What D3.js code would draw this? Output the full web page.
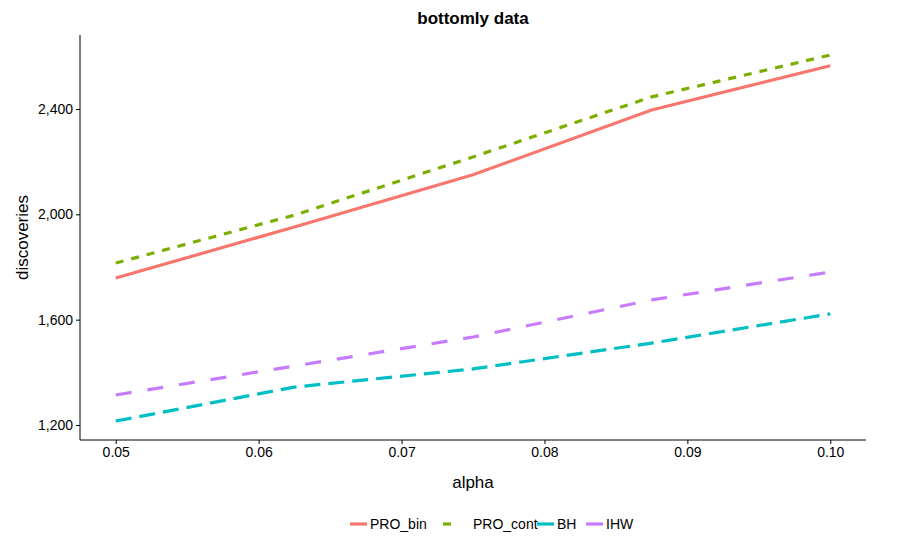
<!DOCTYPE html>
<html><head><meta charset="utf-8">
<script src="https://cdn.jsdelivr.net/npm/d3@7"></script>
<style>body{margin:0;background:#fff;font-family:"Liberation Sans",Arial,sans-serif}</style>
</head><body><div id="chart"></div>
<script>
// data
let alphas = [0.05, 0.0625, 0.075, 0.0875, 0.1];
let pro_bin = [1758, 1952, 2150, 2396, 2564];
let pro_cont = [1815, 1997, 2218, 2446, 2605];
let bh = [1215, 1344, 1413, 1511, 1622];
let ihw = [1314, 1424, 1534, 1675, 1781];
let seriesNames = ["PRO_bin", "PRO_cont", "BH", "IHW"];
let xTicks = [0.05, 0.06, 0.07, 0.08, 0.09, 0.10];
let yTicks = [1200, 1600, 2000, 2400];

let colors = ["#F8766D", "#7CAE00", "#00BFC4", "#C77CFF"];
let dashes = [null, "8,8", "16,8", "16,16"];
let allSeries = [pro_bin, pro_cont, bh, ihw];

let width = 903, height = 551;
let margin = {top: 35, bottom: 111, left: 80, right: 37};

let svg = d3.select("#chart").append("svg")
  .attr("width", width).attr("height", height);

let xScale = d3.scaleLinear().domain([0.0475, 0.1025])
  .range([margin.left, width - margin.right]);
let yScale = d3.scaleLinear().domain([1200, 2400])
  .range([425, 109]);

// axes
let axisx = d3.axisBottom(xScale).tickValues(xTicks).tickFormat(d3.format(".2f")).tickSize(4).tickSizeOuter(0);
let axisy = d3.axisLeft(yScale).tickValues(yTicks).tickSize(4).tickSizeOuter(0);

let gx = svg.append("g").attr("transform", "translate(0," + (height - margin.bottom) + ")").call(axisx);
let gy = svg.append("g").attr("transform", "translate(" + margin.left + ",0)").call(axisy);
[gx, gy].forEach(function(g) {
  g.selectAll("text").attr("font-size", "14px").attr("fill", "#000").attr("font-family", "Liberation Sans, Arial, sans-serif");
  g.selectAll("line").attr("stroke", "#000");
  g.select(".domain").attr("stroke", "#000");
});
gy.select(".domain").attr("d", "M0," + margin.top + "V" + (height - margin.bottom));
gx.select(".domain").attr("d", "M" + margin.left + ",0H" + (width - margin.right));

svg.append("text").attr("x", (margin.left + width - margin.right) / 2).attr("y", 488)
  .attr("text-anchor", "middle").attr("font-size", "17px").text("alpha");
svg.append("text").attr("transform", "rotate(-90)")
  .attr("x", -(margin.top + height - margin.bottom) / 2).attr("y", 28)
  .attr("text-anchor", "middle").attr("font-size", "17px").text("discoveries");
svg.append("text").attr("x", (margin.left + width - margin.right) / 2).attr("y", 24)
  .attr("text-anchor", "middle").attr("font-size", "17px").attr("font-weight", "bold").text("bottomly data");

// lines
let line = d3.line().x(function(d, i) { return xScale(alphas[i]); }).y(function(d) { return yScale(d); });
allSeries.forEach(function(s, k) {
  svg.append("path").datum(s).attr("d", line)
    .attr("fill", "none").attr("stroke", colors[k]).attr("stroke-width", 3.2)
    .attr("stroke-dasharray", dashes[k]);
});

// legend
let legX = [350, 443, 537, 586];
seriesNames.forEach(function(n, k) {
  let g = svg.append("g").attr("transform", "translate(" + legX[k] + ",524)");
  g.append("line").attr("x1", 0).attr("x2", k == 1 ? 8 : 17).attr("y1", 0).attr("y2", 0)
    .attr("stroke", colors[k]).attr("stroke-width", 3.2);
  g.append("text").attr("x", k == 1 ? 30 : 20).attr("y", 5).attr("font-size", "14px").text(n);
});
</script></body></html>
